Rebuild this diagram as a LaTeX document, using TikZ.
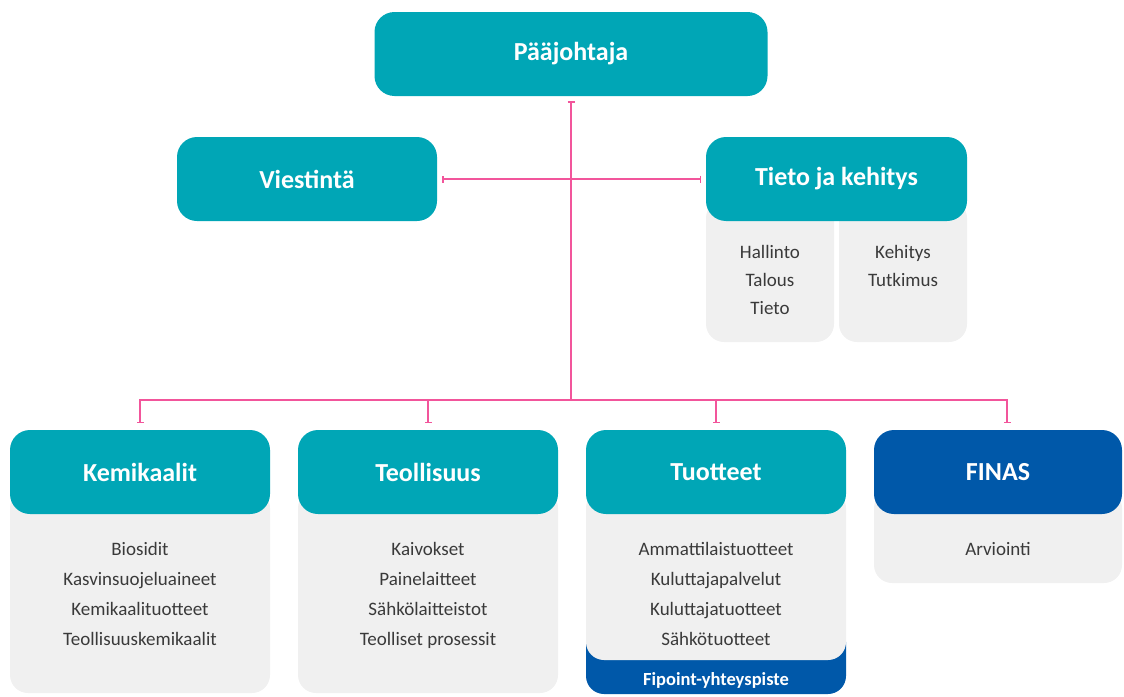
\documentclass[tikz,border=0pt]{standalone}
\usepackage{fontspec}
\setmainfont{Carlito}
\usetikzlibrary{arrows.meta}
\definecolor{teal1}{HTML}{00A6B6}
\definecolor{blue1}{HTML}{0058A9}
\definecolor{pink1}{HTML}{F2559B}
\definecolor{grey1}{HTML}{F0F0F0}
\definecolor{text1}{HTML}{3A3A3A}
\begin{document}
\begin{tikzpicture}[x=1pt,y=-1pt,
    head/.style={fill=teal1, text=white, rounded corners=20pt, minimum width=260pt, minimum height=84pt,
        font=\fontsize{26}{30}\selectfont\bfseries},
    bluehead/.style={head, fill=blue1},
    body/.style={fill=grey1, rounded corners=18pt, inner sep=0pt},
    items/.style={text=text1, align=center, anchor=north, font=\fontsize{19}{30}\selectfont},
    link/.style={pink1, line width=1.3pt, shorten <=5pt, shorten >=5pt}]
\useasboundingbox (0,0) rectangle (1124,696);
% top level
\node[head, minimum width=393pt] (boss) at (571,54) {Pääjohtaja};
\node[head] (viest) at (307,179) {Viestintä};
% tieto ja kehitys with its two lists
\node[body, minimum width=128pt, minimum height=142pt] (tkl) at (770,271) {};
\node[body, minimum width=128pt, minimum height=142pt] (tkr) at (903,271) {};
\node[head, minimum width=261pt] (tieto) at (836.5,179) {Tieto ja kehitys};
\node[items, font=\fontsize{19}{28}\selectfont] (tklist) at (770,242) {Hallinto\\Talous\\Tieto};
\node[items, font=\fontsize{19}{28}\selectfont] (tkrlist) at (903,242) {Kehitys\\Tutkimus};
% departments
\node[body, minimum width=260pt, minimum height=203pt] (kemibody) at (140,591.5) {};
\node[head] (kemi) at (140,472) {Kemikaalit};
\node[items] (kemilist) at (140,539) {Biosidit\\Kasvinsuojeluaineet\\Kemikaalituotteet\\Teollisuuskemikaalit};
\node[body, minimum width=260pt, minimum height=203pt] (teolbody) at (428,591.5) {};
\node[head] (teol) at (428,472) {Teollisuus};
\node[items] (teollist) at (428,539) {Kaivokset\\Painelaitteet\\Sähkölaitteistot\\Teolliset prosessit};
\node[body, fill=blue1, minimum width=260pt, minimum height=70pt] (fipoint) at (716,659) {};
\node[text=white, font=\fontsize{18.5}{22}\selectfont\bfseries] (fipointtext) at (716,680) {Fipoint-yhteyspiste};
\node[body, minimum width=260pt, minimum height=170pt] (tuotbody) at (716,575) {};
\node[head] (tuot) at (716,472) {Tuotteet};
\node[items] (tuotlist) at (716,539) {Ammattilaistuotteet\\Kuluttajapalvelut\\Kuluttajatuotteet\\Sähkötuotteet};
\node[body, minimum width=248pt, minimum height=93pt] (finasbody) at (998,536.5) {};
\node[bluehead, minimum width=248pt] (finas) at (998,472) {FINAS};
\node[items] (finaslist) at (998,539) {Arviointi};
% connectors
\coordinate (hub) at (571,400);
\draw[link, {Bar[width=7pt]}-, shorten >=0pt] (boss.south) -- (hub);
\draw[link, {Bar[width=7pt]}-{Bar[width=7pt]}] (viest.east) -- (tieto.west);
\draw[link, -{Bar[width=7pt]}, shorten <=0pt, shorten >=7pt] (hub) -| (kemi.north);
\draw[link, -{Bar[width=7pt]}, shorten <=0pt, shorten >=7pt] (hub) -| (teol.north);
\draw[link, -{Bar[width=7pt]}, shorten <=0pt, shorten >=7pt] (hub) -| (tuot.north);
\draw[link, -{Bar[width=7pt]}, shorten <=0pt, shorten >=7pt] (hub) -| ([xshift=9pt]finas.north);
\end{tikzpicture}
\end{document}
